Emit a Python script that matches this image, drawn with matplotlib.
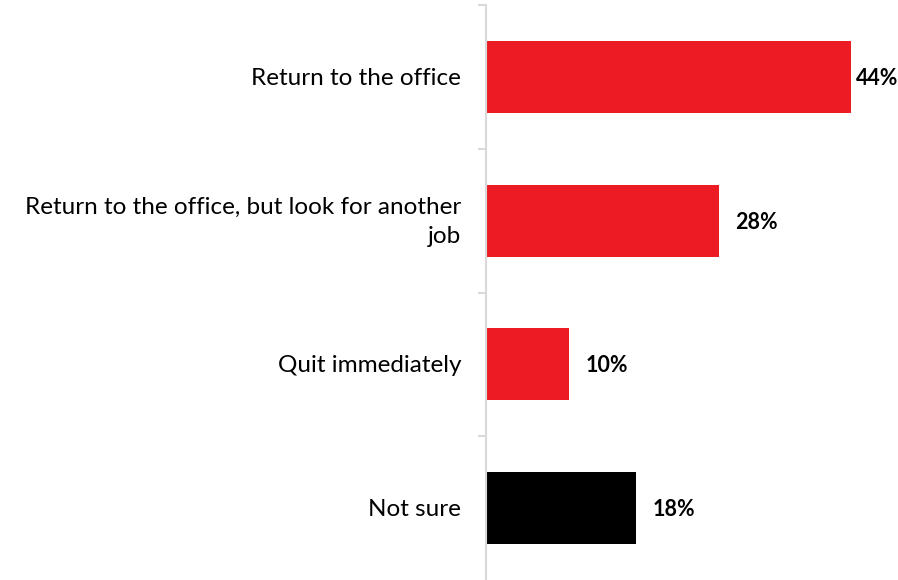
import matplotlib.pyplot as plt

# Risposte e percentuali
categories = [
    "Return to the office",
    "Return to the office, but look for another\njob",
    "Quit immediately",
    "Not sure",
]
values = [44, 28, 10, 18]
colors = ["#ed1c24", "#ed1c24", "#ed1c24", "#000000"]

plt.rcParams['font.family'] = ['Lato', 'DejaVu Sans']

fig = plt.figure(figsize=(8.98, 5.80), dpi=100)
ax = fig.add_axes([486 / 898, 0.0, (898 - 486) / 898, (580 - 5) / 580])

ypos = list(range(len(categories)))
ax.barh(ypos, values, height=0.5, color=colors)
ax.set_ylim(len(categories) - 0.5, -0.5)
ax.set_xlim(0, 49.6)

# etichette categorie a sinistra dell'asse
for y, lab in zip(ypos, categories):
    ax.annotate(lab, xy=(0, y), xytext=(-18, -1), textcoords='offset points',
                ha='right', va='center', fontsize=17.5, color='#000000',
                annotation_clip=False, multialignment='right',
                linespacing=1.45)

# valori in grassetto a destra delle barre
xmax = ax.get_xlim()[1]
for y, v in zip(ypos, values):
    off = 12 if v < xmax - 6 else 3
    ax.annotate(f"{v}%", xy=(v, y), xytext=(off, -1), textcoords='offset points',
                ha='left', va='center', fontsize=15.5, fontweight='bold',
                annotation_clip=False)

# asse verticale grigio con tacche tra le categorie
for s in ['top', 'right', 'bottom']:
    ax.spines[s].set_visible(False)
ax.spines['left'].set_color('#d9d9d9')
ax.spines['left'].set_linewidth(1.5)
ax.set_xticks([])
ax.set_yticks([y + 0.5 for y in ypos[:-1]] + [-0.5])
ax.set_yticklabels([])
ax.tick_params(axis='y', length=6, width=1.5, color='#d9d9d9')

fig.savefig('out.png', dpi=100)
